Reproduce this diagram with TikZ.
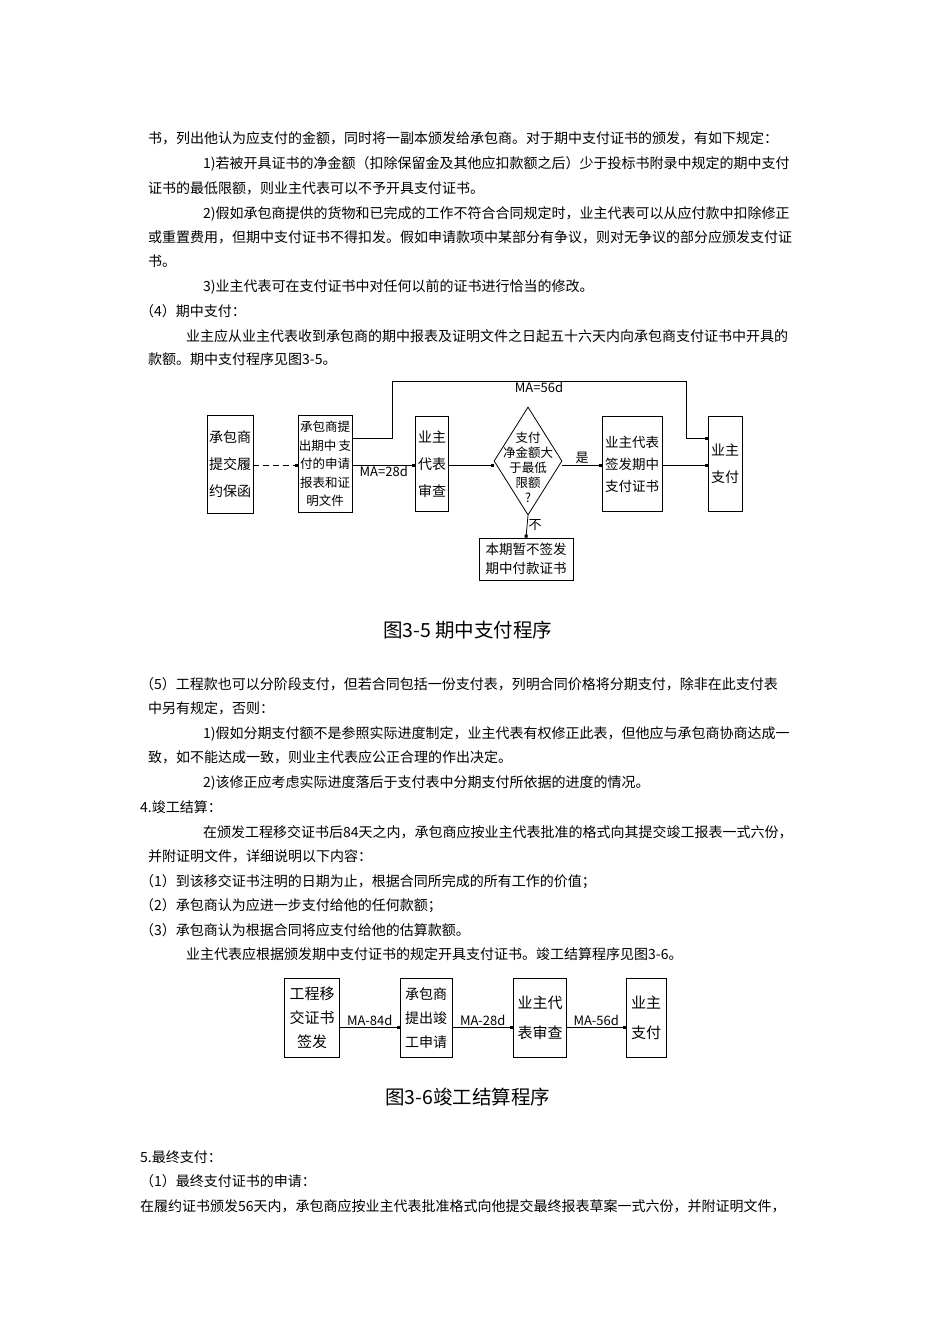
\documentclass[tikz,border=0pt]{standalone}
\usepackage{fontspec}
\setmainfont{Noto Sans CJK SC}
\usetikzlibrary{arrows.meta,shapes.geometric}
\begin{document}
\begin{tikzpicture}[x=1pt,y=-1pt,
  txt/.style={anchor=base west,inner sep=0pt,font=\fontsize{14}{16}\selectfont},
  captxt/.style={anchor=base west,inner sep=0pt,font=\fontsize{19.5}{22}\selectfont},
  box/.style={draw,line width=0.8pt,inner sep=0pt,align=center},
  con/.style={line width=0.8pt,-{Square[length=3pt,width=3pt]}},
  lab/.style={inner sep=1pt,font=\fontsize{13}{14}\selectfont}]
\useasboundingbox[fill=white] (0,0) rectangle (950,1344);
\node[txt] (t1) at (148,143) {书，列出他认为应支付的金额，同时将一副本颁发给承包商。对于期中支付证书的颁发，有如下规定：};
\node[txt] (t2) at (203,168) {1)若被开具证书的净金额（扣除保留金及其他应扣款额之后）少于投标书附录中规定的期中支付};
\node[txt] (t3) at (148,193) {证书的最低限额，则业主代表可以不予开具支付证书。};
\node[txt] (t4) at (203,218) {2)假如承包商提供的货物和已完成的工作不符合合同规定时，业主代表可以从应付款中扣除修正};
\node[txt] (t5) at (148,242) {或重置费用，但期中支付证书不得扣发。假如申请款项中某部分有争议，则对无争议的部分应颁发支付证};
\node[txt] (t6) at (148,266) {书。};
\node[txt] (t7) at (203,291) {3)业主代表可在支付证书中对任何以前的证书进行恰当的修改。};
\node[txt] (t8) at (140,316) {（4）期中支付：};
\node[txt] (t9) at (186,341) {业主应从业主代表收到承包商的期中报表及证明文件之日起五十六天内向承包商支付证书中开具的};
\node[txt] (t10) at (148,364) {款额。期中支付程序见图3-5。};
\node[captxt] (c1) at (383,637) {图3-5 期中支付程序};
\node[txt] (t11) at (140,689) {（5）工程款也可以分阶段支付，但若合同包括一份支付表，列明合同价格将分期支付，除非在此支付表};
\node[txt] (t12) at (148,713) {中另有规定，否则：};
\node[txt] (t13) at (203,738) {1)假如分期支付额不是参照实际进度制定，业主代表有权修正此表，但他应与承包商协商达成一};
\node[txt] (t14) at (148,762) {致，如不能达成一致，则业主代表应公正合理的作出决定。};
\node[txt] (t15) at (203,787) {2)该修正应考虑实际进度落后于支付表中分期支付所依据的进度的情况。};
\node[txt] (t16) at (140,812) {4.竣工结算：};
\node[txt] (t17) at (203,837) {在颁发工程移交证书后84天之内，承包商应按业主代表批准的格式向其提交竣工报表一式六份，};
\node[txt] (t18) at (148,861) {并附证明文件，详细说明以下内容：};
\node[txt] (t19) at (140,886) {（1）到该移交证书注明的日期为止，根据合同所完成的所有工作的价值；};
\node[txt] (t20) at (140,910) {（2）承包商认为应进一步支付给他的任何款额；};
\node[txt] (t21) at (140,935) {（3）承包商认为根据合同将应支付给他的估算款额。};
\node[txt] (t22) at (186,959) {业主代表应根据颁发期中支付证书的规定开具支付证书。竣工结算程序见图3-6。};
\node[captxt] (c2) at (385,1104) {图3-6竣工结算程序};
\node[txt] (t23) at (140,1162) {5.最终支付：};
\node[txt] (t24) at (140,1186) {（1）最终支付证书的申请：};
\node[txt] (t25) at (140,1211) {在履约证书颁发56天内，承包商应按业主代表批准格式向他提交最终报表草案一式六份，并附证明文件，};
% figure 3-5
\node[box,minimum width=46pt,minimum height=98pt,font=\fontsize{14}{27}\selectfont] (A) at (230,464) {承包商\\提交履\\约保函};
\node[box,minimum width=54pt,minimum height=97pt,font=\fontsize{12.5}{18.5}\selectfont] (B) at (325,464) {承包商提\\出期中\,支\\付的申请\\报表和证\\明文件};
\node[box,minimum width=33pt,minimum height=95pt,font=\fontsize{14}{27}\selectfont] (C) at (432,464) {业主\\代表\\审查};
\node[draw,line width=0.8pt,diamond,minimum width=68pt,minimum height=108pt,inner sep=0pt] (D) at (528,461) {};
\node[align=center,inner sep=0pt,font=\fontsize{12.5}{15}\selectfont] (Dt) at (528,467) {支付\\净金额大\\于最低\\限额\\?};
\node[box,minimum width=60pt,minimum height=95pt,font=\fontsize{13.5}{22}\selectfont] (E) at (632,464) {业主代表\\签发期中\\支付证书};
\node[box,minimum width=34pt,minimum height=95pt,font=\fontsize{14}{27}\selectfont] (F) at (725,464) {业主\\支付};
\node[box,minimum width=94pt,minimum height=42pt,font=\fontsize{13.5}{19}\selectfont] (G) at (526,559) {本期暂不签发\\期中付款证书};
\draw[con,dashed,dash pattern=on 6pt off 4pt] (A.east|-0,465) -- (B.west|-0,465);
\draw[con] (B.east|-0,465) -- node[lab,below,pos=0.5] (l28) {MA=28d} (C.west|-0,465);
\draw[con] (C.east|-0,465) -- (D.west|-0,465);
\draw[con] (D.east|-0,465) -- node[lab,above] (lyes) {是} (E.west|-0,465);
\draw[con] (E.east|-0,465) -- (F.west|-0,465);
\draw[con] (D.south) -- node[lab,right,pos=0.45] (lno) {不} (G.north);
\draw[con] (B.east|-0,438) -- (392,438) -- (392,381) -- node[lab,below] (l56) {MA=56d} (686,381) -- (686,438) -- (F.west|-0,438);
% figure 3-6
\node[box,minimum width=55pt,minimum height=79pt,font=\fontsize{15}{24}\selectfont] (H) at (312,1018) {工程移\\交证书\\签发};
\node[box,minimum width=52pt,minimum height=79pt,font=\fontsize{14}{24}\selectfont] (I) at (426,1018) {承包商\\提出竣\\工申请};
\node[box,minimum width=53pt,minimum height=79pt,font=\fontsize{15}{30}\selectfont] (J) at (540,1018) {业主代\\表审查};
\node[box,minimum width=40pt,minimum height=79pt,font=\fontsize{15}{30}\selectfont] (K) at (646,1018) {业主\\支付};
\draw[con] (H.east|-0,1027) -- node[lab,above] (m84) {MA-84d} (I.west|-0,1027);
\draw[con] (I.east|-0,1027) -- node[lab,above] (m28) {MA-28d} (J.west|-0,1027);
\draw[con] (J.east|-0,1027) -- node[lab,above] (m56) {MA-56d} (K.west|-0,1027);
\end{tikzpicture}
\end{document}
